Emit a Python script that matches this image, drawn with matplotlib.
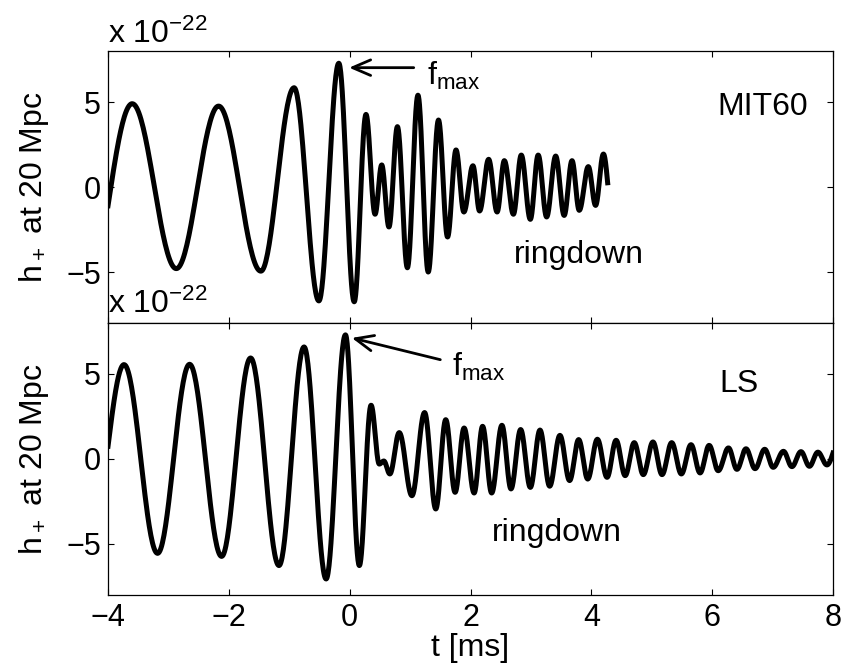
import numpy as np
import matplotlib
matplotlib.use('Agg')
import matplotlib.pyplot as plt

# extrema of h+ (units of 1e-22), t in ms
t_mit = [-4.00, -3.60, -2.87, -2.17, -1.47, -0.92, -0.51, -0.18, 0.075, 0.27,
         0.42, 0.53, 0.65, 0.79, 0.955, 1.13, 1.30, 1.47, 1.62, 1.76,
         1.89, 2.04, 2.15, 2.30, 2.44, 2.56, 2.71, 2.84, 2.99, 3.12,
         3.26, 3.41, 3.55, 3.68, 3.80, 3.95, 4.07, 4.20, 4.27]
h_mit = [-1.1, 4.9, -4.8, 4.76, -4.95, 5.84, -6.7, 7.28, -6.75, 4.27,
         -1.6, 1.3, -2.35, 3.55, -4.75, 5.4, -5.0, 3.94, -2.94, 2.18,
         -1.47, 1.25, -1.41, 1.63, -1.47, 1.55, -1.6, 1.88, -1.9, 1.88,
         -1.76, 1.82, -1.67, 1.55, -1.37, 1.2, -1.08, 1.94, 0.25]

t_ls = [-4.00, -3.735, -3.18, -2.65, -2.12, -1.64, -1.17, -0.755, -0.39, -0.07,
        0.16, 0.354, 0.49, 0.565, 0.665, 0.82, 1.03, 1.24, 1.425, 1.59,
        1.745, 1.894, 2.06, 2.20, 2.35, 2.52, 2.67, 2.83, 2.99, 3.15,
        3.31, 3.48, 3.64, 3.79, 3.94, 4.10, 4.26, 4.41, 4.56, 4.71,
        4.86, 5.02, 5.17, 5.33, 5.49, 5.65, 5.80, 5.95, 6.10, 6.27,
        6.41, 6.56, 6.71, 6.87, 7.01, 7.18, 7.32, 7.47, 7.61, 7.75,
        7.90, 8.00]
h_ls = [0.75, 5.55, -5.55, 5.57, -5.73, 5.94, -6.27, 6.59, -7.06, 7.3,
        -6.27, 3.16, -0.3, -0.12, -0.88, 1.55, -2.16, 2.73, -2.94, 2.31,
        -1.96, 1.82, -2.0, 1.92, -2.0, 1.98, -1.76, 1.73, -1.67, 1.7,
        -1.6, 1.39, -1.27, 1.14, -1.18, 1.16, -1.08, 1.1, -0.98, 0.96,
        -0.92, 1.0, -0.92, 0.96, -0.88, 0.84, -0.82, 0.8, -0.69, 0.65,
        -0.61, 0.6, -0.57, 0.57, -0.49, 0.45, -0.45, 0.43, -0.43, 0.4,
        -0.35, 0.35]

x_ticks = [-4, -2, 0, 2, 4, 6, 8]
y_ticks = [-5, 0, 5]

FS = 23   # labels / annotations
TFS = 22  # tick labels


def trace(tn, hn, per=40):
    # smooth half-cosine strokes between successive extrema,
    # first and last strokes start / end on a slope (plot edge)
    tt, hh = [], []
    n = len(tn)
    for i in range(n - 1):
        s = np.linspace(0, 1, per, endpoint=False)
        if i == 0:
            w = np.sin(np.pi / 2 * s)
        elif i == n - 2:
            w = 1 - np.cos(np.pi / 2 * s)
        else:
            w = (1 - np.cos(np.pi * s)) / 2
        tt.append(tn[i] + (tn[i + 1] - tn[i]) * s)
        hh.append(hn[i] + (hn[i + 1] - hn[i]) * w)
    tt.append([tn[-1]])
    hh.append([hn[-1]])
    return np.concatenate(tt), np.concatenate(hh)


def style(ax):
    ax.set_xlim(-4, 8)
    ax.set_ylim(-8, 8)
    ax.set_xticks(x_ticks)
    ax.set_yticks(y_ticks)
    ax.tick_params(direction='in', length=4.5, width=0.8, top=True, right=True,
                   labelsize=TFS)
    ax.tick_params(axis='y', pad=5)
    ax.tick_params(axis='x', pad=6)
    for sp in ax.spines.values():
        sp.set_linewidth(0.9)
    ax.set_ylabel('h$_+$ at 20 Mpc', fontsize=FS)
    ax.yaxis.set_label_coords(-0.078, 0.5)


def fmax(ax, tail, tip, txt):
    ax.annotate('', xy=tip, xytext=tail,
                arrowprops=dict(arrowstyle='->, head_length=0.65, head_width=0.28',
                                lw=2, color='k', shrinkA=0, shrinkB=0,
                                mutation_scale=20))
    ax.text(txt[0], txt[1], 'f$_{max}$', fontsize=FS, ha='left', va='baseline')


def main():
    plt.rcParams['font.family'] = ['Liberation Sans', 'DejaVu Sans']
    plt.rcParams['mathtext.default'] = 'regular'

    fig = plt.figure(figsize=(8.42, 6.72), dpi=100)
    ax1 = fig.add_axes([0.1283, 0.5193, 0.8610, 0.4048])
    ax2 = fig.add_axes([0.1283, 0.1146, 0.8610, 0.4048])

    t1, h1 = trace(t_mit, h_mit)
    t2, h2 = trace(t_ls, h_ls)
    ax1.plot(t1, h1, color='k', lw=3.6, solid_joinstyle='round')
    ax2.plot(t2, h2, color='k', lw=3.6, solid_joinstyle='round')

    style(ax1)
    style(ax2)
    ax1.tick_params(labelbottom=False)
    ax2.set_xlabel('t [ms]', fontsize=FS, labelpad=0)

    # MATLAB style exponent labels
    ax1.text(0.0, 1.03, 'x 10$^{-22}$', transform=ax1.transAxes, fontsize=FS,
             ha='left', va='baseline')
    ax2.text(0.0, 1.035, 'x 10$^{-22}$', transform=ax2.transAxes, fontsize=FS,
             ha='left', va='baseline', clip_on=False)

    fmax(ax1, (1.06, 7.02), (-0.01, 7.02), (1.28, 6.0))
    fmax(ax2, (1.50, 5.84), (0.035, 7.12), (1.70, 4.88))

    ax1.text(6.84, 4.24, 'MIT60', fontsize=FS, ha='center', va='baseline')
    ax1.text(3.79, -4.47, 'ringdown', fontsize=FS, ha='center', va='baseline')
    ax2.text(6.44, 3.94, 'LS', fontsize=FS, ha='center', va='baseline')
    ax2.text(3.43, -4.8, 'ringdown', fontsize=FS, ha='center', va='baseline')

    fig.savefig('out.png', dpi=100)


if __name__ == "__main__":
    main()
